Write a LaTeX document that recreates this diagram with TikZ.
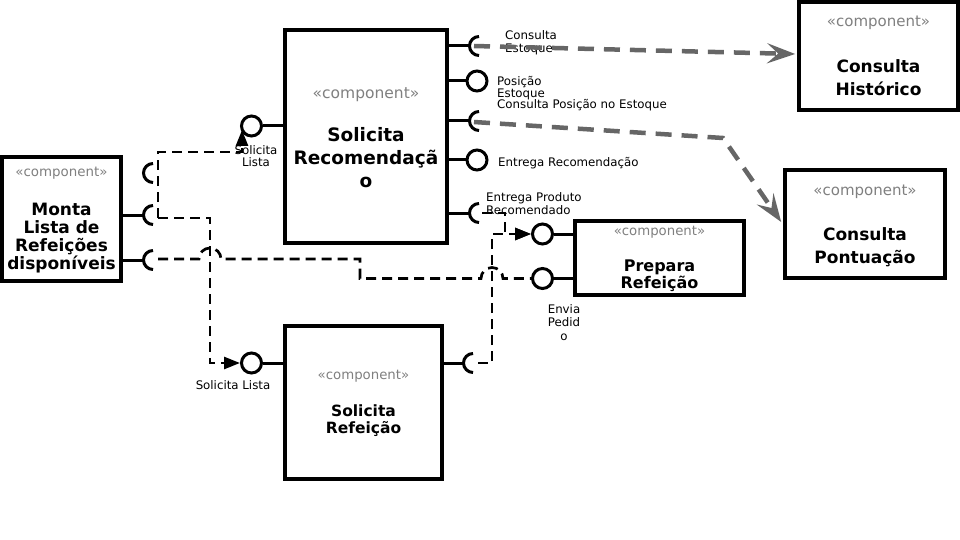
\documentclass[tikz,border=0pt]{standalone}
\usepackage{fontspec}
\setmainfont{DejaVu Sans}
\usetikzlibrary{arrows.meta,calc}
\definecolor{dgray}{HTML}{666666}
\definecolor{stgray}{HTML}{808080}
\newcommand\drawsocket[1]{\draw[sockarc] ($(#1)+(0,-9.5)$) arc[start angle=90,end angle=270,radius=9.5pt];}
\begin{document}
\begin{tikzpicture}[x=1pt,y=-1pt,
  box/.style={draw,line width=3.6pt,inner sep=0pt},
  stereo/.style={text=stgray,inner sep=0pt},
  ttl/.style={align=center,inner sep=0pt},
  lbl/.style={inner sep=0pt},
  lolli/.style={draw,circle,line width=3pt,minimum size=20pt,inner sep=0pt},
  stub/.style={line width=3pt},
  sockarc/.style={line width=3pt},
  dep/.style={line width=2.7pt,dash pattern=on 10pt off 6pt},
  gdep/.style={line width=4.5pt,draw=dgray,dash pattern=on 16pt off 10pt},
  btip/.style={-{Triangle[length=16pt,width=12pt]}},
  gtip/.style={-{Stealth[length=28pt,width=20pt,inset=11pt]}},
]
\fill[white] (0,0) rectangle (960,540);
\useasboundingbox (0,0) rectangle (960,540);

% ---------- component boxes ----------
\node[box,minimum width=119pt,minimum height=124pt] (monta) at (61.5,219) {};
\node[box,minimum width=162pt,minimum height=213pt] (recom) at (366,136.5) {};
\node[box,minimum width=157pt,minimum height=153pt] (refei) at (363.5,402.5) {};
\node[box,minimum width=169pt,minimum height=74pt] (prep) at (659.5,258) {};
\node[box,minimum width=159pt,minimum height=108pt] (hist) at (878.5,56) {};
\node[box,minimum width=160pt,minimum height=108pt] (pont) at (865,224) {};

% ---------- stereotypes and titles ----------
\node[stereo,font=\fontsize{13.4}{16}\selectfont] (montaS) at (61.5,173) {«component»};
\node[ttl,font=\bfseries\fontsize{17}{18}\selectfont] (montaT) at (61.5,238) {Monta\\Lista de\\Refeições\\disponíveis};

\node[stereo,font=\fontsize{15.5}{18}\selectfont] (recomS) at (366,95) {«component»};
\node[ttl,font=\bfseries\fontsize{18.5}{23}\selectfont] (recomT) at (366,157.7) {Solicita\\Recomendaçã\\o};

\node[stereo,font=\fontsize{13.3}{16}\selectfont] (refeiS) at (363.5,376) {«component»};
\node[ttl,font=\bfseries\fontsize{15.5}{17.3}\selectfont] (refeiT) at (363.5,420.3) {Solicita\\Refeição};

\node[stereo,font=\fontsize{13.3}{16}\selectfont] (prepS) at (659.5,232) {«component»};
\node[ttl,font=\bfseries\fontsize{16}{16.7}\selectfont] (prepT) at (659.5,275.8) {Prepara\\Refeição};

\node[stereo,font=\fontsize{15}{18}\selectfont] (histS) at (878.5,23) {«component»};
\node[ttl,font=\bfseries\fontsize{17}{23}\selectfont] (histT) at (878.5,77.3) {Consulta\\Histórico};

\node[stereo,font=\fontsize{15}{18}\selectfont] (pontS) at (865,192) {«component»};
\node[ttl,font=\bfseries\fontsize{17}{23}\selectfont] (pontT) at (865,247.6) {Consulta\\Pontuação};

% ---------- ports ----------
% Monta sockets
\coordinate (ms1) at (153,173);
\coordinate (ms2) at (153,215);
\coordinate (ms3) at (153,260);
\drawsocket{ms1}
\drawsocket{ms2}
\drawsocket{ms3}
\draw[stub] (ms2 -| monta.east) -- ($(ms2)+(-9.5,0)$);
\draw[stub] (ms3 -| monta.east) -- ($(ms3)+(-9.5,0)$);

% Solicita Recomendacao ports
\node[lolli] (rl0) at (251.5,126) {};
\draw[stub] (rl0.east) -- (rl0.east -| recom.west);
\coordinate (rs1) at (479,46);
\coordinate (rs3) at (479,121);
\coordinate (rs5) at (479,213);
\drawsocket{rs1}
\drawsocket{rs3}
\drawsocket{rs5}
\draw[stub] (rs1 -| recom.east) -- ($(rs1)+(-9.5,0)$);
\draw[stub] (rs3 -| recom.east) -- ($(rs3)+(-9.5,0)$);
\draw[stub] (rs5 -| recom.east) -- ($(rs5)+(-9.5,0)$);
\node[lolli] (rl2) at (477,81) {};
\node[lolli] (rl4) at (477,160) {};
\draw[stub] (rl2.west) -- (rl2.west -| recom.east);
\draw[stub] (rl4.west) -- (rl4.west -| recom.east);

% Solicita Refeicao ports
\node[lolli] (fl) at (251.5,363) {};
\draw[stub] (fl.east) -- (fl.east -| refei.west);
\coordinate (fs) at (473,363);
\drawsocket{fs}
\draw[stub] (fs -| refei.east) -- ($(fs)+(-9.5,0)$);

% Prepara Refeicao ports
\node[lolli] (pl1) at (542.5,234) {};
\node[lolli] (pl2) at (542.5,278.5) {};
\draw[stub] (pl1.east) -- (pl1.east -| prep.west);
\draw[stub] (pl2.east) -- (pl2.east -| prep.west);

% ---------- labels ----------
\node[lbl,anchor=north,align=center,font=\fontsize{11.8}{12}\selectfont] (lSL1) at (256,145) {Solicita\\Lista};
\node[lbl,anchor=base,font=\fontsize{11.8}{13}\selectfont] (lSL2) at (233,389) {Solicita Lista};
\node[lbl,anchor=north west,align=left,font=\fontsize{11.8}{13.5}\selectfont] (lCE) at (505,30.3) {Consulta\\Estoque};
\node[lbl,anchor=north west,align=left,font=\fontsize{11.8}{11.7}\selectfont] (lPE) at (497,76) {Posição\\Estoque};
\node[lbl,anchor=base west,font=\fontsize{11.8}{13}\selectfont] (lCP) at (497,108.3) {Consulta Posição no Estoque};
\node[lbl,anchor=base west,font=\fontsize{11.8}{13}\selectfont] (lER) at (498,166.7) {Entrega Recomendação};
\node[lbl,anchor=north west,align=left,font=\fontsize{11.8}{12.5}\selectfont] (lEP) at (486,192.7) {Entrega Produto\\Recomendado};
\node[lbl,anchor=north,align=center,font=\fontsize{11.8}{13.5}\selectfont] (lEnv) at (564,304) {Envia\\Pedid\\o};

% ---------- black dashed connectors ----------
\draw[dep,btip] ($(ms2)+(5,3)$) |- ($(rl0)+(-9.5,26)$) -- ($(rl0)+(-9.5,4)$);
\draw[dep,btip] ($(ms2)+(5,3)$) -| ($(fl)+(-41.5,0)$) -- (fl.west);
\draw[dep] ($(ms3)+(5,-1)$) -- (199,259) arc[start angle=180,end angle=0,radius=11pt]
   -- (360,259) -- (360,278.5) -- (481,278.5) arc[start angle=180,end angle=0,radius=11pt]
   -- (pl2.west);
\draw[dep,btip] ($(rs5)+(3,0)$) -- ($(rs5)+(26,0)$) -- ($(rs5)+(26,21)$) -- (pl1.west);
\draw[dep,btip] ($(fs)+(5,0)$) -- ($(fs)+(19,0)$) -- ($(fs)+(19,-129)$) -- (pl1.west);

% ---------- gray dashed dependencies ----------
\draw[gdep,gtip] ($(rs1)+(-5,0)$) -- ($(hist.west)+(-2,-2)$);
\draw[gdep,gtip] ($(rs3)+(-5,1)$) -- (723,138) -- ($(pont.west)+(-2,-2)$);
\end{tikzpicture}
\end{document}
